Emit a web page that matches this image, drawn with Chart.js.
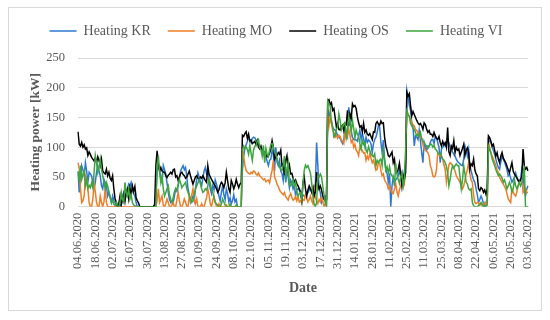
<!DOCTYPE html>
<html>
<head>
<meta charset="utf-8">
<script src="https://cdn.jsdelivr.net/npm/chart.js@4.4.1/dist/chart.umd.min.js"></script>
<style>
  html, body { margin: 0; padding: 0; background: #fff; }
  #wrap { width: 550px; height: 320px; }
</style>
</head>
<body>
<div id="wrap"><canvas id="heatChart" width="550" height="320"></canvas></div>
<script>
// tick labels on the date axis, one every 14 days
var tickLabels = ['04.06.2020', '18.06.2020', '02.07.2020', '16.07.2020', '30.07.2020', '13.08.2020',
    '27.08.2020', '10.09.2020', '24.09.2020', '08.10.2020', '22.10.2020', '05.11.2020', '19.11.2020',
    '03.12.2020', '17.12.2020', '31.12.2020', '14.01.2021', '28.01.2021', '11.02.2021', '25.02.2021',
    '11.03.2021', '25.03.2021', '08.04.2021', '22.04.2021', '06.05.2021', '20.05.2021', '03.06.2021'];

var seriesNames = ['Heating KR', 'Heating MO', 'Heating OS', 'Heating VI'];

// daily heating power [kW], 04.06.2020 - 03.06.2021 (14 days per row)
var heatingKR = [
    58, 24, 46, 69, 62, 52, 74, 60, 41, 58, 55, 52, 40, 30,
    41, 58, 69, 60, 52, 35, 30, 46, 40, 35, 18, 24, 15, 7,
    18, 10, 7, 0, 0, 3, 0, 5, 18, 24, 13, 20, 30, 38,
    35, 41, 30, 22, 18, 7, 0, 0, 0, 0, 0, 0, 0, 0,
    0, 0, 0, 0, 0, 0, 0, 20, 58, 69, 63, 46, 40, 69,
    62, 55, 40, 24, 12, 7, 10, 7, 18, 30, 26, 35, 46, 60,
    65, 69, 62, 66, 50, 30, 20, 7, 12, 18, 10, 30, 45, 57,
    50, 42, 35, 48, 60, 66, 55, 62, 40, 30, 22, 35, 28, 45,
    38, 30, 18, 10, 24, 35, 20, 12, 30, 22, 8, 15, 5, 10,
    20, 8, 12, 0, 0, 0, 0, 61, 85, 98, 104, 110, 117, 112,
    108, 115, 117, 116, 112, 106, 105, 98, 97, 95, 90, 83, 84, 76,
    69, 78, 80, 95, 88, 60, 100, 75, 69, 78, 60, 56, 44, 67,
    41, 60, 50, 32, 45, 40, 30, 36, 18, 28, 30, 28, 22, 13,
    20, 18, 17, 22, 24, 28, 30, 26, 30, 35, 32, 108, 69, 30,
    24, 7, 12, 18, 18, 7, 150, 159, 150, 145, 134, 130, 129, 125,
    120, 117, 115, 110, 106, 112, 136, 125, 118, 167, 145, 128, 117, 113,
    113, 112, 110, 120, 129, 113, 123, 115, 102, 117, 108, 112, 110, 106,
    91, 106, 113, 117, 125, 136, 134, 108, 91, 112, 78, 63, 56, 41,
    56, 0, 35, 50, 41, 45, 48, 52, 61, 50, 57, 39, 60, 74,
    196, 185, 170, 162, 141, 134, 102, 119, 117, 113, 129, 110, 91, 74,
    108, 100, 95, 102, 102, 108, 113, 113, 106, 119, 115, 108, 100, 74,
    97, 100, 104, 102, 106, 110, 108, 100, 97, 92, 88, 85, 80, 76,
    74, 72, 70, 69, 80, 102, 95, 85, 97, 69, 60, 52, 45, 41,
    30, 20, 7, 12, 18, 13, 5, 0, 7, 12, 113, 110, 108, 100,
    95, 88, 80, 72, 66, 63, 75, 85, 80, 75, 69, 62, 52, 55,
    48, 41, 45, 50, 57, 50, 45, 41, 48, 63, 55, 30, 18, 30,
    35
];

var heatingMO = [
    74, 63, 30, 7, 10, 18, 52, 45, 30, 7, 0, 0, 13, 41,
    25, 7, 0, 0, 18, 7, 0, 8, 30, 7, 0, 0, 0, 0,
    0, 0, 0, 0, 0, 0, 0, 0, 0, 0, 0, 0, 0, 0,
    0, 0, 0, 0, 0, 0, 0, 0, 0, 0, 0, 0, 0, 0,
    0, 0, 0, 0, 0, 0, 0, 0, 10, 30, 7, 12, 18, 2,
    0, 5, 13, 7, 0, 0, 3, 7, 0, 0, 12, 24, 10, 0,
    0, 5, 13, 8, 0, 0, 18, 10, 20, 30, 15, 5, 13, 0,
    0, 0, 5, 0, 0, 8, 15, 30, 20, 5, 0, 10, 18, 8,
    0, 0, 5, 0, 0, 0, 0, 0, 3, 0, 0, 0, 0, 0,
    0, 0, 0, 0, 0, 0, 0, 100, 84, 70, 61, 58, 56, 55,
    58, 56, 60, 59, 55, 53, 57, 52, 50, 48, 45, 47, 42, 44,
    45, 40, 52, 61, 78, 50, 45, 38, 34, 28, 25, 22, 20, 24,
    17, 14, 11, 18, 22, 15, 11, 13, 17, 10, 17, 8, 10, 6,
    12, 11, 20, 15, 8, 12, 18, 10, 5, 30, 15, 10, 5, 12,
    8, 15, 10, 0, 5, 10, 164, 136, 150, 140, 129, 125, 117, 120,
    115, 120, 118, 112, 110, 106, 125, 115, 120, 130, 120, 108, 112, 100,
    105, 95, 92, 86, 101, 97, 95, 90, 91, 78, 85, 80, 89, 82,
    74, 78, 70, 61, 63, 74, 73, 61, 52, 55, 45, 41, 38, 30,
    34, 28, 24, 22, 30, 39, 25, 18, 28, 35, 41, 45, 39, 69,
    161, 155, 152, 148, 141, 138, 136, 130, 128, 125, 120, 116, 113, 105,
    97, 95, 93, 91, 85, 69, 63, 52, 50, 52, 63, 91, 88, 85,
    85, 80, 70, 63, 41, 55, 70, 74, 72, 69, 65, 60, 52, 48,
    45, 41, 35, 30, 35, 45, 55, 63, 74, 55, 45, 41, 20, 7,
    5, 7, 7, 3, 5, 2, 4, 7, 3, 5, 108, 100, 90, 85,
    80, 75, 69, 62, 57, 50, 45, 41, 38, 34, 30, 22, 13, 10,
    7, 30, 25, 20, 18, 25, 35, 41, 45, 52, 24, 28, 30, 24,
    24
];

var heatingOS = [
    126, 105, 102, 108, 100, 104, 97, 99, 86, 92, 88, 83, 80, 77,
    82, 74, 84, 78, 69, 80, 60, 57, 55, 63, 52, 58, 48, 44,
    52, 30, 13, 8, 0, 5, 18, 3, 12, 21, 9, 25, 30, 14,
    32, 20, 35, 26, 34, 15, 10, 6, 0, 0, 0, 0, 0, 0,
    0, 0, 0, 0, 0, 0, 4, 69, 94, 72, 60, 66, 60, 58,
    58, 52, 49, 53, 55, 58, 55, 62, 63, 50, 52, 44, 50, 56,
    58, 54, 52, 48, 50, 55, 60, 52, 45, 38, 44, 50, 52, 48,
    46, 50, 48, 52, 48, 44, 41, 69, 55, 50, 46, 42, 38, 35,
    30, 24, 28, 36, 41, 38, 32, 40, 58, 44, 30, 24, 44, 38,
    30, 36, 46, 38, 32, 38, 40, 120, 118, 123, 126, 115, 122, 110,
    112, 106, 108, 110, 104, 111, 100, 97, 102, 95, 91, 92, 88, 84,
    86, 90, 98, 111, 100, 80, 84, 86, 91, 88, 95, 69, 72, 53,
    78, 86, 63, 70, 55, 56, 48, 41, 45, 39, 35, 30, 25, 11,
    41, 50, 30, 18, 28, 35, 30, 24, 32, 18, 25, 58, 40, 30,
    35, 28, 18, 13, 10, 12, 178, 180, 172, 175, 162, 165, 150, 134,
    140, 130, 129, 135, 137, 128, 140, 138, 162, 136, 156, 148, 173, 168,
    170, 165, 151, 141, 134, 136, 126, 140, 125, 129, 122, 120, 123, 118,
    113, 126, 125, 140, 143, 139, 137, 144, 140, 141, 117, 102, 95, 86,
    84, 88, 92, 74, 80, 57, 57, 63, 73, 55, 35, 53, 46, 57,
    192, 186, 190, 170, 153, 160, 155, 150, 145, 141, 138, 140, 136, 130,
    141, 138, 130, 125, 128, 122, 122, 118, 125, 119, 115, 113, 118, 108,
    102, 110, 104, 108, 100, 133, 92, 86, 102, 98, 111, 91, 100, 95,
    97, 86, 92, 98, 105, 86, 95, 99, 90, 63, 72, 69, 80, 62,
    55, 52, 30, 27, 32, 30, 24, 28, 21, 30, 119, 116, 110, 102,
    105, 95, 85, 91, 80, 74, 85, 91, 82, 78, 74, 68, 62, 57,
    66, 74, 60, 55, 52, 48, 44, 41, 46, 50, 97, 69, 63, 66,
    60
];

var heatingVI = [
    60, 41, 69, 46, 55, 60, 35, 45, 30, 36, 32, 40, 32, 57,
    86, 74, 57, 65, 80, 63, 52, 41, 30, 41, 35, 24, 18, 7,
    10, 4, 2, 7, 0, 0, 7, 24, 12, 7, 41, 24, 18, 30,
    13, 20, 7, 3, 2, 0, 0, 0, 0, 0, 0, 0, 0, 0,
    0, 0, 0, 0, 0, 0, 0, 0, 69, 86, 58, 41, 52, 30,
    18, 24, 30, 35, 20, 12, 7, 15, 25, 30, 28, 38, 46, 40,
    32, 35, 38, 41, 30, 24, 18, 12, 7, 10, 18, 30, 35, 40,
    46, 38, 30, 24, 26, 30, 28, 35, 46, 40, 30, 24, 15, 7,
    5, 2, 0, 0, 5, 13, 8, 3, 0, 0, 0, 5, 0, 0,
    0, 0, 3, 0, 0, 0, 0, 95, 102, 98, 100, 96, 88, 103,
    90, 78, 95, 102, 103, 110, 113, 100, 95, 85, 103, 74, 98, 88,
    84, 95, 105, 106, 100, 91, 89, 80, 74, 67, 63, 61, 70, 85,
    50, 62, 74, 36, 35, 40, 45, 34, 41, 25, 18, 22, 24, 11,
    40, 61, 70, 66, 69, 63, 57, 40, 18, 5, 0, 7, 52, 50,
    55, 50, 35, 20, 7, 0, 178, 173, 169, 141, 134, 117, 119, 130,
    134, 156, 145, 129, 135, 140, 141, 117, 130, 152, 140, 125, 145, 132,
    116, 129, 122, 119, 106, 97, 112, 105, 108, 95, 91, 101, 95, 88,
    86, 84, 89, 69, 78, 74, 78, 80, 69, 95, 80, 61, 67, 57,
    67, 55, 52, 50, 35, 73, 55, 46, 39, 50, 57, 34, 45, 97,
    161, 155, 152, 140, 136, 132, 130, 125, 119, 122, 119, 125, 115, 110,
    108, 104, 102, 98, 102, 105, 105, 100, 103, 97, 95, 91, 88, 90,
    85, 80, 78, 74, 68, 57, 35, 46, 60, 69, 65, 69, 72, 69,
    69, 50, 30, 45, 69, 55, 41, 38, 30, 28, 30, 7, 2, 0,
    0, 0, 2, 3, 7, 4, 0, 2, 0, 3, 102, 95, 91, 80,
    75, 69, 62, 57, 52, 55, 52, 48, 41, 45, 38, 30, 35, 41,
    35, 24, 30, 46, 35, 30, 35, 41, 35, 40, 55, 69, 0, 0,
    0
];

var yTicks = [0, 50, 100, 150, 200, 250];

// day index is the category, one per value
var days = heatingKR.map(function (v, i) { return i; });

var gray = '#595959';
Chart.defaults.font.family = "'Liberation Serif', 'Times New Roman', serif";
Chart.defaults.color = gray;

// light frame around the whole figure
var frame = {
    id: 'frame',
    beforeDraw: function (chart) {
        var c = chart.ctx;
        c.save();
        c.fillStyle = '#ffffff';
        c.fillRect(0, 0, chart.width, chart.height);
        c.strokeStyle = '#d9d9d9';
        c.lineWidth = 1;
        c.strokeRect(8.5, 7.5, 533, 303);
        c.restore();
    }
};

// extra room under the legend, and centre it on the canvas
var legendGap = {
    id: 'legendGap',
    beforeInit: function (chart) {
        var fit = chart.legend.fit;
        chart.legend.fit = function () {
            fit.call(this);
            this.height += 10;
        };
    },
    afterLayout: function (chart) {
        chart.legend.left += 7;
        chart.legend.right += 7;
    }
};

function series(label, data, color, order) {
    return {
        label: label,
        data: data,
        borderColor: color,
        backgroundColor: color,
        borderWidth: 1.5,
        pointRadius: 0,
        tension: 0,
        order: order
    };
}

var ctx = document.getElementById('heatChart').getContext('2d');
new Chart(ctx, {
    type: 'line',
    data: {
        labels: days,
        datasets: [
            series(seriesNames[0], heatingKR, '#2E78D2', 4),
            series(seriesNames[1], heatingMO, '#F07E26', 3),
            series(seriesNames[2], heatingOS, '#000000', 2),
            series(seriesNames[3], heatingVI, '#3EA53E', 1)
        ]
    },
    plugins: [frame, legendGap],
    options: {
        responsive: false,
        animation: false,
        layout: { padding: { top: 7, left: 10, right: 22, bottom: 10 } },
        plugins: {
            tooltip: { enabled: false },
            legend: {
                position: 'top',
                labels: {
                    usePointStyle: true,
                    pointStyle: 'line',
                    pointStyleWidth: 27,
                    padding: 17,
                    color: gray,
                    font: { size: 14 },
                    sort: function (a, b) { return a.datasetIndex - b.datasetIndex; }
                }
            }
        },
        scales: {
            x: {
                type: 'category',
                offset: false,
                grid: { display: false, drawTicks: false },
                border: { display: true, color: '#d9d9d9' },
                ticks: {
                    autoSkip: false,
                    minRotation: 90,
                    maxRotation: 90,
                    padding: 6,
                    color: gray,
                    font: { size: 12.5 },
                    callback: function (val, i) {
                        return i % 14 === 0 ? tickLabels[i / 14] : '';
                    }
                },
                title: {
                    display: true,
                    text: 'Date',
                    color: gray,
                    font: { size: 14, weight: 'bold' },
                    padding: { top: 0, bottom: 13 }
                },
                afterFit: function (scale) { scale.height = 103.3; }
            },
            y: {
                min: 0,
                max: 250,
                grid: { color: '#d9d9d9', drawTicks: false },
                border: { display: false },
                afterBuildTicks: function (scale) {
                    scale.ticks = yTicks.map(function (v) { return { value: v }; });
                },
                ticks: {
                    padding: 13,
                    color: gray,
                    font: { size: 12.5 }
                },
                title: {
                    display: true,
                    text: 'Heating power [kW]',
                    color: gray,
                    font: { size: 13.5, weight: 'bold' },
                    padding: { top: 17, bottom: 0 }
                },
                afterFit: function (scale) { scale.width = 68; }
            }
        }
    }
});
</script>
</body>
</html>
